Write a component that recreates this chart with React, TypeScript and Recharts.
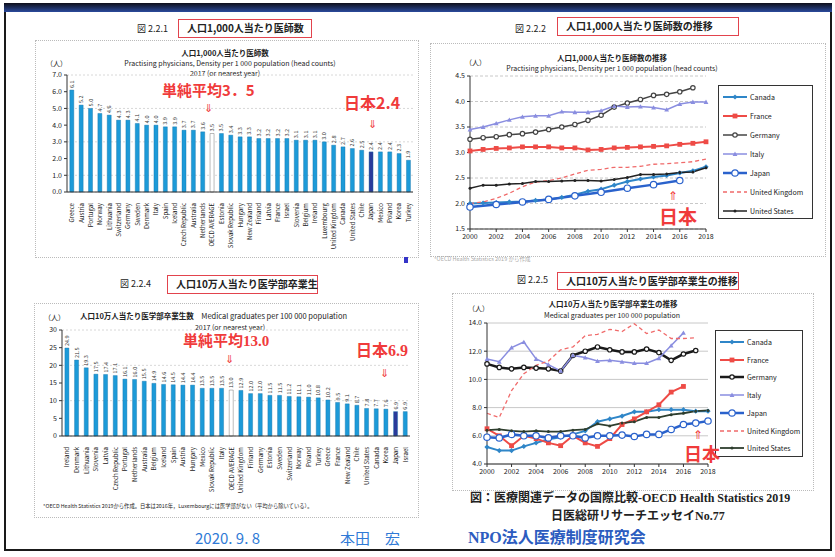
import React from "react";
import {
  BarChart,
  Bar,
  XAxis,
  YAxis,
  CartesianGrid,
  Cell,
  LabelList,
  LineChart,
  Line,
} from "recharts";

const FONT = "'Noto Sans CJK JP', 'Noto Sans', sans-serif";
const SERIF = "'Liberation Serif', 'Noto Sans CJK JP', serif";

// 図 2.2.1 physicians per 1,000
const physCountries = [
  "Greece", "Austria", "Portugal", "Norway", "Lithuania", "Switzerland", "Germany",
  "Sweden", "Denmark", "Italy", "Spain", "Iceland", "Czech Republic", "Australia",
  "Netherlands", "OECD AVERAGE", "Estonia", "Slovak Republic", "Hungary", "New Zealand",
  "Finland", "Latvia", "France", "Israel", "Slovenia", "Belgium", "Ireland", "Luxembourg",
  "United Kingdom", "Canada", "United States", "Chile", "Japan", "Mexico", "Poland",
  "Korea", "Turkey",
];
const physValues = [
  6.1, 5.2, 5.0, 4.7, 4.6, 4.3, 4.3, 4.1, 4.0, 4.0, 3.9, 3.9, 3.7, 3.7, 3.6, 3.5, 3.5,
  3.4, 3.3, 3.3, 3.2, 3.2, 3.2, 3.2, 3.1, 3.1, 3.1, 3.0, 2.8, 2.7, 2.6, 2.5, 2.4, 2.4,
  2.4, 2.3, 1.9,
];
const physTicks = [0, 1, 2, 3, 4, 5, 6, 7];

// 図 2.2.4 medical graduates per 100,000
const gradCountries = [
  "Ireland", "Denmark", "Lithuania", "Slovenia", "Latvia", "Czech Republic", "Portugal",
  "Netherlands", "Australia", "Belgium", "Iceland", "Spain", "Austria", "Hungary", "Mexico",
  "Slovak Republic", "Italy", "OECD AVERAGE", "United Kingdom", "Finland", "Germany",
  "Estonia", "Sweden", "Switzerland", "Norway", "Poland", "Turkey", "Greece", "France",
  "New Zealand", "Chile", "United States", "Canada", "Korea", "Japan", "Israel",
];
const gradValues = [
  24.9, 21.5, 19.3, 17.5, 17.4, 17.1, 16.1, 16.0, 15.5, 14.9, 14.6, 14.5, 14.4, 14.4,
  13.5, 13.5, 13.5, 13.0, 12.9, 12.0, 12.0, 11.5, 11.5, 11.2, 11.1, 11.0, 10.8, 10.2,
  9.5, 9.1, 8.7, 7.8, 7.7, 7.6, 6.9, 6.9,
];
const gradTicks = [0, 5, 10, 15, 20, 25, 30];

// 図 2.2.2 / 2.2.5 trends
const years = [
  2000, 2001, 2002, 2003, 2004, 2005, 2006, 2007, 2008, 2009, 2010, 2011, 2012, 2013,
  2014, 2015, 2016, 2017, 2018,
];
const yearTicks = [2000, 2002, 2004, 2006, 2008, 2010, 2012, 2014, 2016, 2018];

const physTrend: Record<string, (number | null)[]> = {
  canada: [2.0, 2.01, 2.02, 2.03, 2.04, 2.06, 2.08, 2.12, 2.17, 2.24, 2.28, 2.36, 2.43, 2.48, 2.52, 2.55, 2.6, 2.64, 2.72],
  france: [3.03, 3.06, 3.08, 3.09, 3.11, 3.11, 3.11, 3.09, 3.09, 3.05, 3.06, 3.09, 3.1, 3.11, 3.12, 3.13, 3.16, 3.18, 3.21],
  germany: [3.26, 3.29, 3.31, 3.35, 3.37, 3.4, 3.45, 3.5, 3.55, 3.63, 3.73, 3.89, 3.97, 4.04, 4.12, 4.14, 4.19, 4.27, null],
  italy: [3.45, 3.5, 3.57, 3.64, 3.7, 3.72, 3.72, 3.8, 3.79, 3.79, 3.82, 3.91, 3.89, 3.9, 3.88, 3.84, 3.95, 3.99, 3.99],
  japan: [1.93, null, 1.98, null, 2.03, null, 2.08, null, 2.15, null, 2.22, null, 2.3, null, 2.37, null, 2.45, null, null],
  uk: [2.0, 2.03, 2.1, 2.2, 2.33, 2.42, 2.45, 2.5, 2.58, 2.65, 2.67, 2.71, 2.71, 2.73, 2.77, 2.78, 2.8, 2.82, 2.87],
  us: [2.3, 2.36, 2.36, 2.38, 2.39, 2.43, 2.43, 2.44, 2.45, 2.45, 2.44, 2.47, 2.51, 2.57, 2.57, 2.58, 2.61, 2.62, 2.7],
};
const physTrendTicks = [1.5, 2.0, 2.5, 3.0, 3.5, 4.0, 4.5];

const gradTrend: Record<string, (number | null)[]> = {
  canada: [5.2, 4.95, 4.95, 5.25, 5.5, 5.75, 5.9, 6.1, 6.35, 7.0, 7.2, 7.4, 7.7, 7.7, 7.85, 7.85, 7.85, 7.75, 7.75],
  france: [6.5, 6.0, 5.3, 6.0, 5.8, 5.5, 5.3, 6.0, 5.5, 5.25, 5.8, 6.8, 7.2, 7.7, 8.2, 9.1, 9.5, null, null],
  germany: [11.1, 10.85, 10.75, 10.85, 10.8, 10.75, 10.6, 11.7, 12.0, 12.3, 12.1, 11.95, 11.95, 12.15, 11.9, 11.35, 11.8, 12.05, null],
  italy: [11.45, 11.25, 12.25, 12.65, 11.45, 11.05, 10.6, 11.7, 11.55, 11.3, 11.35, 11.25, 11.15, 11.15, 11.5, 12.4, 13.3, null, null],
  japan: [5.9, 5.85, 6.1, 6.0, 6.0, 5.85, 6.0, 6.0, 5.85, 6.0, 6.0, 6.05, 5.95, 6.1, 6.1, 6.45, 6.8, 6.9, 7.05],
  uk: [7.6, 7.3, 9.2, 10.4, 11.0, 11.3, 12.1, 12.3, 13.1, 13.2, 13.55, 13.4, 13.95, 13.25, 13.5, 12.9, 12.9, 12.95, null],
  us: [6.4, 6.45, 6.35, 6.3, 6.35, 6.3, 6.3, 6.4, 6.45, 6.85, 6.7, 6.9, 7.0, 7.3, 7.3, 7.5, 7.6, 7.75, 7.8],
};
const gradTrendTicks = [4, 6, 8, 10, 12, 14];

const seriesKeys = ["canada", "france", "germany", "italy", "japan", "uk", "us"];

type Style = {
  name: string;
  color: string;
  width: number;
  dash?: string;
  marker: string;
  fill?: string;
  r: number;
};

const styles2: Record<string, Style> = {
  canada: { name: "Canada", color: "#2f86c8", width: 2, marker: "diamond", fill: "#2f86c8", r: 2.6 },
  france: { name: "France", color: "#ee4b46", width: 2, marker: "square", fill: "#ee4b46", r: 2.4 },
  germany: { name: "Germany", color: "#444", width: 1.5, marker: "circle", fill: "#fff", r: 2.2 },
  italy: { name: "Italy", color: "#8a8ee0", width: 1.5, marker: "triangle", fill: "#8a8ee0", r: 2.4 },
  japan: { name: "Japan", color: "#2a62cc", width: 2.5, marker: "circle", fill: "#fff", r: 3.2 },
  uk: { name: "United Kingdom", color: "#f06a6a", width: 1.3, dash: "4 3", marker: "none", r: 0 },
  us: { name: "United States", color: "#222", width: 1.5, marker: "dot", fill: "#222", r: 1.5 },
};

const styles5: Record<string, Style> = {
  ...styles2,
  germany: { name: "Germany", color: "#1a1a1a", width: 2.5, marker: "circle", fill: "#fff", r: 2.2 },
  us: { name: "United States", color: "#2e3e2e", width: 1.8, marker: "dot", fill: "#2e3e2e", r: 1.5 },
};

const shape = (s: Style, cx: number, cy: number) => {
  const r = s.r;
  switch (s.marker) {
    case "circle":
      return <circle cx={cx} cy={cy} r={r} fill={s.fill} stroke={s.color} strokeWidth={1.2} />;
    case "diamond":
      return (
        <polygon
          points={`${cx},${cy - r} ${cx + r},${cy} ${cx},${cy + r} ${cx - r},${cy}`}
          fill={s.fill}
        />
      );
    case "square":
      return <rect x={cx - r} y={cy - r} width={2 * r} height={2 * r} fill={s.fill} />;
    case "triangle":
      return (
        <polygon
          points={`${cx},${cy - r} ${cx + r},${cy + r * 0.8} ${cx - r},${cy + r * 0.8}`}
          fill={s.fill}
        />
      );
    case "dot":
      return <circle cx={cx} cy={cy} r={r} fill={s.fill} />;
    default:
      return null;
  }
};

const makeDot = (s: Style) => (p: any) => {
  const { cx, cy, value, index } = p;
  if (value == null || cx == null || cy == null) return <g key={`d${index}`} />;
  return <g key={`d${index}`}>{shape(s, cx, cy)}</g>;
};

const buildBars = (names: string[], values: number[]) =>
  names.map((name, i) => ({ name, value: values[i] }));

const buildTrend = (series: Record<string, (number | null)[]>) =>
  years.map((year, i) => {
    const row: any = { year };
    seriesKeys.forEach((k) => (row[k] = series[k][i]));
    return row;
  });

const physData = buildBars(physCountries, physValues);
const gradData = buildBars(gradCountries, gradValues);
const physTrendData = buildTrend(physTrend);
const gradTrendData = buildTrend(gradTrend);

const barColor = (name: string) =>
  name === "Japan" ? "#2b3a9a" : name === "OECD AVERAGE" ? "#ffffff" : "#1c9ad8";

const RotTick = (p: any) => {
  const { x, y, payload } = p;
  const ty = y + 3;
  return (
    <text
      x={x}
      y={ty}
      transform={`rotate(-90 ${x} ${ty})`}
      textAnchor="end"
      dominantBaseline="central"
      fontSize={6.1}
      fill="#222"
      fontFamily={FONT}
    >
      {payload.value}
    </text>
  );
};

const valueLabel = (p: any) => {
  const { x, y, width, value } = p;
  const cx = Number(x) + Number(width) / 2;
  const ty = Number(y) - 2;
  return (
    <text
      x={cx}
      y={ty}
      transform={`rotate(-90 ${cx} ${ty})`}
      textAnchor="start"
      dominantBaseline="central"
      fontSize={5.5}
      fill="#333"
      fontFamily={FONT}
    >
      {Number(value).toFixed(1)}
    </text>
  );
};

const tickStyle = { fontSize: 7, fill: "#222", fontFamily: FONT };

const Txt = ({
  x,
  y,
  size,
  children,
  color = "#222",
  weight = 400,
  family = FONT,
  center = false,
}: any) => (
  <div
    style={{
      position: "absolute",
      left: x,
      top: y - size * 0.6,
      fontSize: size,
      lineHeight: `${size * 1.2}px`,
      color,
      fontWeight: weight,
      fontFamily: family,
      whiteSpace: "nowrap",
      transform: center ? "translateX(-50%)" : undefined,
    }}
  >
    {children}
  </div>
);

const Box = ({ x, y, w, h, border }: any) => (
  <div
    style={{
      position: "absolute",
      left: x,
      top: y,
      width: w,
      height: h,
      border,
      boxSizing: "border-box",
    }}
  />
);

const LegendBox = ({ x, y, w, h, st, gap, first }: any) => (
  <div
    style={{
      position: "absolute",
      left: x,
      top: y,
      width: w,
      height: h,
      border: "1px solid #333",
      background: "#fff",
      boxSizing: "border-box",
    }}
  >
    {seriesKeys.map((k, i) => {
      const s: Style = st[k];
      return (
        <div
          key={k}
          style={{
            position: "absolute",
            left: 4,
            top: first + i * gap - 6,
            height: 12,
            display: "flex",
            alignItems: "center",
          }}
        >
          <svg width={24} height={12}>
            <line
              x1={0}
              y1={6}
              x2={24}
              y2={6}
              stroke={s.color}
              strokeWidth={s.width}
              strokeDasharray={s.dash}
            />
            {shape(s, 12, 6)}
          </svg>
          <span style={{ fontSize: 7, marginLeft: 3, fontFamily: FONT, color: "#222" }}>
            {s.name}
          </span>
        </div>
      );
    })}
  </div>
);

const RedBox = ({ x, y, w, h, label }: any) => (
  <div
    style={{
      position: "absolute",
      left: x,
      top: y,
      width: w,
      height: h,
      border: "1.5px solid #e2434d",
      boxSizing: "border-box",
      fontFamily: FONT,
      fontWeight: 700,
      fontSize: 10,
      lineHeight: `${h - 3}px`,
      paddingLeft: 8,
      color: "#222",
      whiteSpace: "nowrap",
    }}
  >
    {label}
  </div>
);

const renderLines = (st: Record<string, Style>) =>
  seriesKeys.map((k) => {
    const s = st[k];
    return (
      <Line
        key={k}
        dataKey={k}
        name={s.name}
        stroke={s.color}
        strokeWidth={s.width}
        strokeDasharray={s.dash}
        dot={s.marker === "none" ? false : makeDot(s)}
        activeDot={false}
        connectNulls
        isAnimationActive={false}
        type="linear"
      />
    );
  });

const red = "#f03b3b";

export default function App() {
  return (
    <div
      style={{
        position: "absolute",
        left: 0,
        top: 0,
        width: 835,
        height: 557,
        background: "#fff",
        overflow: "hidden",
        fontFamily: FONT,
      }}
    >
      {/* frame */}
      <div
        style={{
          position: "absolute",
          left: 4,
          top: 3,
          width: 828,
          height: 548,
          border: "2px solid #1a1a1a",
          boxSizing: "border-box",
        }}
      />
      <div
        style={{
          position: "absolute",
          left: 4,
          top: 3,
          width: 828,
          height: 9,
          background: "linear-gradient(#0e0e1a, #2a4a9c)",
        }}
      />

      {/* ---------- 図 2.2.1 ---------- */}
      <Txt x={137} y={29} size={9}>図 2.2.1</Txt>
      <RedBox x={178} y={19} w={134} h={19} label="人口1,000人当たり医師数" />
      <Box x={35} y={40} w={384} h={218} border="1px dotted #bbb" />
      <Txt x={225} y={52} size={7.5} weight={700} center>人口1,000人当たり医師数</Txt>
      <Txt x={230} y={63} size={7} center>
        Practising physicians, Density per 1 000 population (head counts)
      </Txt>
      <Txt x={225} y={73} size={7} center>2017 (or nearest year)</Txt>
      <Txt x={46} y={63} size={7}>（人）</Txt>
      <div style={{ position: "absolute", left: 35, top: 40 }}>
        <BarChart
          width={385}
          height={215}
          data={physData}
          margin={{ top: 35, right: 7, bottom: 0, left: 0 }}
          barCategoryGap="30%"
        >
          <CartesianGrid vertical={false} stroke="#d8d8d8" strokeDasharray="2 2" />
          <XAxis
            dataKey="name"
            interval={0}
            height={63}
            tick={<RotTick />}
            tickLine={false}
            axisLine={{ stroke: "#333" }}
          />
          <YAxis
            width={32}
            domain={[0, 7]}
            ticks={physTicks}
            tickFormatter={(v: number) => v.toFixed(1)}
            tick={tickStyle}
            tickSize={3}
            axisLine={{ stroke: "#333" }}
            tickLine={{ stroke: "#333" }}
          />
          <Bar dataKey="value" isAnimationActive={false} stroke="#0f6ea6" strokeWidth={0.4}>
            {physData.map((d) => (
              <Cell
                key={d.name}
                fill={barColor(d.name)}
                stroke={d.name === "OECD AVERAGE" ? "#555" : "#0f6ea6"}
              />
            ))}
            <LabelList dataKey="value" content={valueLabel} />
          </Bar>
        </BarChart>
      </div>
      <Txt x={162} y={90} size={15} weight={700} color={red}>単純平均3．5</Txt>
      <Txt x={204} y={108} size={11} color={red}>⇓</Txt>
      <Txt x={344} y={103} size={16} weight={700} color={red}>日本2.4</Txt>
      <Txt x={368} y={124} size={11} color={red}>⇓</Txt>

      {/* ---------- 図 2.2.2 ---------- */}
      <Txt x={515} y={29} size={9}>図 2.2.2</Txt>
      <RedBox x={557} y={17} w={182} h={19} label="人口1,000人当たり医師数の推移" />
      <Box x={430} y={43} w={396} h={214} border="1px dotted #bbb" />
      <Txt x={612} y={57} size={7.5} weight={700} center>人口1,000人当たり医師数の推移</Txt>
      <Txt x={612} y={68} size={7} center>
        Practising physicians, Density per 1 000 population (head counts)
      </Txt>
      <Txt x={465} y={62} size={7}>（人）</Txt>
      <div style={{ position: "absolute", left: 432, top: 43 }}>
        <LineChart
          width={390}
          height={210}
          data={physTrendData}
          margin={{ top: 33, right: 116, bottom: 4, left: 0 }}
        >
          <CartesianGrid vertical={false} stroke="#c8c8c8" strokeDasharray="3 2" />
          <XAxis
            dataKey="year"
            type="number"
            domain={[2000, 2018]}
            ticks={yearTicks}
            height={20}
            tick={tickStyle}
            tickSize={3}
            axisLine={{ stroke: "#333" }}
            tickLine={{ stroke: "#333" }}
          />
          <YAxis
            width={38}
            domain={[1.5, 4.5]}
            ticks={physTrendTicks}
            tickFormatter={(v: number) => v.toFixed(1)}
            tick={tickStyle}
            tickSize={3}
            axisLine={{ stroke: "#333" }}
            tickLine={{ stroke: "#333" }}
          />
          {renderLines(styles2)}
        </LineChart>
      </div>
      <LegendBox x={718} y={85} w={95} h={134} st={styles2} gap={19} first={11} />
      <Txt x={668} y={195} size={12} color={red}>⇑</Txt>
      <Txt x={659} y={216} size={19} weight={700} color={red}>日本</Txt>
      <Txt x={434} y={259} size={5.5} color="#aaa">*OECD Health Statistics 2019 から作成</Txt>

      {/* ---------- 図 2.2.4 ---------- */}
      <div style={{ position: "absolute", left: 404, top: 257, width: 4, height: 6, background: "#3434c8" }} />
      <Txt x={120} y={284} size={9}>図 2.2.4</Txt>
      <RedBox x={167} y={275} w={151} h={19} label="人口10万人当たり医学部卒業生" />
      <Box x={34} y={303} w={385} h={215} border="1px dotted #bbb" />
      <Txt x={80} y={315} size={7.5}>
        <b>人口10万人当たり医学部卒業生数</b>　Medical graduates per 100 000 population
      </Txt>
      <Txt x={230} y={327} size={7} center>2017 (or nearest year)</Txt>
      <Txt x={44} y={317} size={7}>（人）</Txt>
      <div style={{ position: "absolute", left: 35, top: 300 }}>
        <BarChart
          width={380}
          height={198}
          data={gradData}
          margin={{ top: 30, right: 5, bottom: 0, left: 0 }}
          barCategoryGap="30%"
        >
          <CartesianGrid vertical={false} stroke="#d8d8d8" strokeDasharray="2 2" />
          <XAxis
            dataKey="name"
            interval={0}
            height={62}
            tick={<RotTick />}
            tickLine={false}
            axisLine={{ stroke: "#333" }}
          />
          <YAxis
            width={27}
            domain={[0, 30]}
            ticks={gradTicks}
            tick={tickStyle}
            tickSize={3}
            axisLine={{ stroke: "#333" }}
            tickLine={{ stroke: "#333" }}
          />
          <Bar dataKey="value" isAnimationActive={false} stroke="#0f6ea6" strokeWidth={0.4}>
            {gradData.map((d) => (
              <Cell
                key={d.name}
                fill={barColor(d.name)}
                stroke={d.name === "OECD AVERAGE" ? "#555" : "#0f6ea6"}
              />
            ))}
            <LabelList dataKey="value" content={valueLabel} />
          </Bar>
        </BarChart>
      </div>
      <Txt x={183} y={341} size={15} weight={700} color={red} family={SERIF}>単純平均13.0</Txt>
      <Txt x={225} y={359} size={11} color={red}>⇓</Txt>
      <Txt x={356} y={351} size={16} weight={700} color={red} family={SERIF}>日本6.9</Txt>
      <Txt x={380} y={373} size={11} color={red}>⇓</Txt>
      <Txt x={43} y={506} size={5.3}>
        *OECD Health Statistics 2019から作成。日本は2016年，Luxembourgには医学部がない（平均から除いている）。
      </Txt>

      {/* ---------- 図 2.2.5 ---------- */}
      <Txt x={517} y={280} size={9}>図 2.2.5</Txt>
      <RedBox x={557} y={272} w={182} h={18} label="人口10万人当たり医学部卒業生の推移" />
      <Box x={452} y={293} w={362} h={198} border="1px dotted #bbb" />
      <Txt x={613} y={303} size={7.5} weight={700} center>人口10万人当たり医学部卒業生の推移</Txt>
      <Txt x={612} y={315} size={7} center>Medical graduates per 100 000 population</Txt>
      <Txt x={468} y={308} size={7}>（人）</Txt>
      <div style={{ position: "absolute", left: 452, top: 293 }}>
        <LineChart
          width={365}
          height={195}
          data={gradTrendData}
          margin={{ top: 30, right: 109, bottom: 4, left: 0 }}
        >
          <CartesianGrid vertical={false} stroke="#c8c8c8" />
          <XAxis
            dataKey="year"
            type="number"
            domain={[2000, 2018]}
            ticks={yearTicks}
            height={20}
            tick={tickStyle}
            tickSize={3}
            axisLine={{ stroke: "#333" }}
            tickLine={{ stroke: "#333" }}
          />
          <YAxis
            width={35}
            domain={[4, 14]}
            ticks={gradTrendTicks}
            tickFormatter={(v: number) => v.toFixed(1)}
            tick={tickStyle}
            tickSize={3}
            axisLine={{ stroke: "#333" }}
            tickLine={{ stroke: "#333" }}
          />
          {renderLines(styles5)}
        </LineChart>
      </div>
      <LegendBox x={715} y={330} w={88} h={127} st={styles5} gap={17.7} first={11} />
      <Txt x={693} y={434} size={12} color={red}>⇑</Txt>
      <Txt x={684} y={454} size={18} weight={700} color={red}>日本</Txt>

      {/* ---------- footer ---------- */}
      <Txt x={470} y={498} size={12} weight={700} family={SERIF}>
        図：医療関連データの国際比較-OECD Health Statistics 2019
      </Txt>
      <Txt x={551} y={516} size={12} weight={700} family={SERIF}>
        日医総研リサーチエッセイNo.77
      </Txt>
      <Txt x={195} y={538} size={15} color="#2f7ad6">2020. 9. 8</Txt>
      <Txt x={340} y={538} size={15} color="#2f7ad6">本田　宏</Txt>
      <Txt x={468} y={538} size={16} weight={700} color="#2c5cc0" family={SERIF}>
        NPO法人医療制度研究会
      </Txt>
    </div>
  );
}
